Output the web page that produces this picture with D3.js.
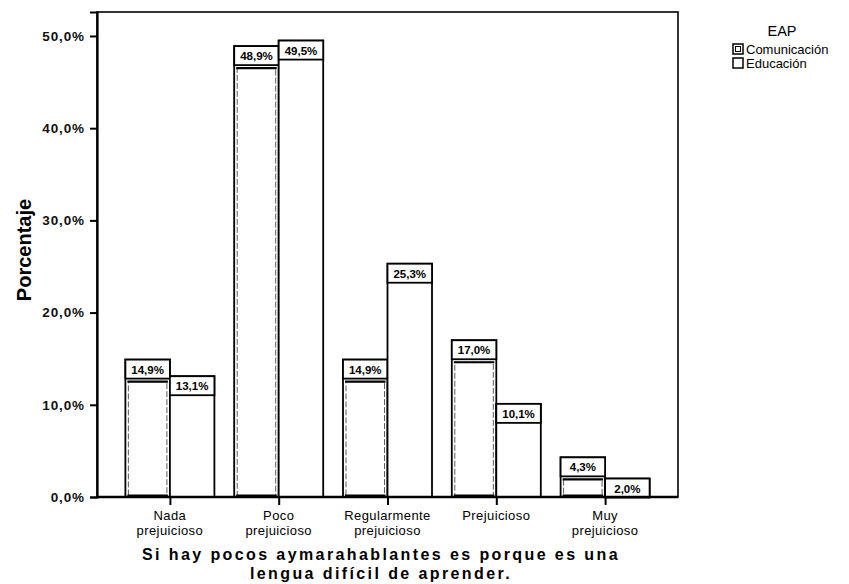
<!DOCTYPE html>
<html>
<head>
<meta charset="utf-8">
<script src="https://cdn.jsdelivr.net/npm/d3@7"></script>
<style>
  html, body { margin: 0; padding: 0; background: #fff; }
  svg { display: block; font-family: "Liberation Sans", Arial, sans-serif; }
</style>
</head>
<body>
<svg id="chart" width="849" height="584"></svg>
<script>
// Categories of the answer scale
const categories = [
  ["Nada", "prejuicioso"],
  ["Poco", "prejuicioso"],
  ["Regularmente", "prejuicioso"],
  ["Prejuicioso"],
  ["Muy", "prejuicioso"]
];
const categoryKeys = categories.map(c => c.join(" "));

// Percentages per EAP group
const comunicacion = [14.9, 48.9, 14.9, 17.0, 4.3];
const educacion    = [13.1, 49.5, 25.3, 10.1, 2.0];

const seriesNames = ["Comunicación", "Educación"];
const yTicks = [0, 10, 20, 30, 40, 50];

const fmt = v => v.toFixed(1).replace(".", ",") + "%";

const svg = d3.select("#chart");
const plot = { left: 97, right: 678, top: 12, bottom: 497 };

const x = d3.scalePoint()
  .domain(categoryKeys)
  .range([plot.left, plot.right])
  .padding(0.67);

const y = d3.scaleLinear()
  .domain([0, 52.6])
  .range([plot.bottom, plot.top]);

const barW = 44.5;

// Plot frame
svg.append("rect")
  .attr("x", plot.left).attr("y", plot.top)
  .attr("width", plot.right - plot.left)
  .attr("height", plot.bottom - plot.top)
  .attr("fill", "#fff").attr("stroke", "#000").attr("stroke-width", 1.6);

// Bars
const series = [comunicacion, educacion];
series.forEach((vals, si) => {
  const g = svg.append("g").attr("class", "series-" + si);
  vals.forEach((v, i) => {
    const cx = x(categoryKeys[i]);
    const x0 = si === 0 ? cx - barW : cx;
    const top = y(v);
    g.append("rect")
      .attr("x", x0).attr("y", top)
      .attr("width", barW).attr("height", y(0) - top)
      .attr("fill", "#fff").attr("stroke", "#000").attr("stroke-width", 1.8);
    if (si === 0) {
      // inner outline of the Comunicación bars
      const innerTop = Math.min(top + 22, y(0) - 4);
      g.append("rect")
        .attr("x", x0 + 3).attr("y", innerTop)
        .attr("width", barW - 6)
        .attr("height", Math.max(0, y(0) - 1 - innerTop))
        .attr("fill", "none").attr("stroke", "#333").attr("stroke-width", 0.8)
        .attr("stroke-dasharray", "6,2");
      g.append("line")
        .attr("x1", x0 + 2).attr("x2", x0 + barW - 2)
        .attr("y1", innerTop).attr("y2", innerTop)
        .attr("stroke", "#000").attr("stroke-width", 2.2);
      g.append("line")
        .attr("x1", x0 + 2).attr("x2", x0 + barW - 2)
        .attr("y1", y(0) - 1.5).attr("y2", y(0) - 1.5)
        .attr("stroke", "#000").attr("stroke-width", 2);
    }
    // value label box
    g.append("rect")
      .attr("x", x0).attr("y", top)
      .attr("width", barW).attr("height", 19)
      .attr("fill", "#fff").attr("stroke", "#000").attr("stroke-width", 1.8);
    g.append("text")
      .attr("x", x0 + barW / 2).attr("y", top + 14)
      .attr("text-anchor", "middle")
      .attr("font-size", 11.5).attr("font-weight", "bold")
      .text(fmt(v));
  });
});

// Y axis
const yAxis = d3.axisLeft(y).tickValues(yTicks).tickSize(7).tickPadding(5)
  .tickFormat(d => d.toFixed(1).replace(".", ",") + "%");
const gy = svg.append("g").attr("transform", `translate(${plot.left},0)`).call(yAxis);
gy.select(".domain").attr("stroke-width", 2.2);
gy.selectAll(".tick line").attr("stroke-width", 2);
gy.selectAll(".tick text").attr("font-size", 13.5).attr("font-weight", "bold")
  .attr("letter-spacing", 0.9)
  .attr("font-family", "'Liberation Sans', Arial, sans-serif").attr("fill", "#111");

// X axis
const xAxis = d3.axisBottom(x).tickSize(8).tickFormat("");
const gx = svg.append("g").attr("transform", `translate(0,${plot.bottom})`).call(xAxis);
gx.select(".domain").attr("stroke-width", 2.4).attr("d", `M${plot.left},0H${plot.right}`);
gx.selectAll(".tick line").attr("stroke-width", 2);

categories.forEach((lines, i) => {
  lines.forEach((l, k) => {
    svg.append("text")
      .attr("x", x(categoryKeys[i])).attr("y", 520 + k * 15)
      .attr("text-anchor", "middle").attr("font-size", 13)
      .attr("letter-spacing", 0.4)
      .text(l);
  });
});

// Axis titles
svg.append("text")
  .attr("transform", `translate(31,250) rotate(-90)`)
  .attr("text-anchor", "middle")
  .attr("font-family", "'Liberation Sans Narrow', 'Liberation Sans', Arial, sans-serif")
  .attr("font-size", 20).attr("font-weight", "bold")
  .text("Porcentaje");

svg.append("text")
  .attr("x", 381).attr("y", 560)
  .attr("text-anchor", "middle").attr("font-size", 16).attr("font-weight", "bold")
  .attr("letter-spacing", 2.4)
  .text("Si hay pocos aymarahablantes es porque es una");
svg.append("text")
  .attr("x", 381).attr("y", 579)
  .attr("text-anchor", "middle").attr("font-size", 16).attr("font-weight", "bold")
  .attr("letter-spacing", 2.4)
  .text("lengua difícil de aprender.");

// Legend
const lg = svg.append("g");
lg.append("text").attr("x", 782).attr("y", 36).attr("text-anchor", "middle")
  .attr("font-size", 14.5).text("EAP");
seriesNames.forEach((name, i) => {
  const yy = 44 + i * 14;
  lg.append("rect").attr("x", 733).attr("y", yy).attr("width", 10).attr("height", 10)
    .attr("fill", "#fff").attr("stroke", "#000").attr("stroke-width", 1.5);
  if (i === 0) {
    lg.append("rect").attr("x", 735.5).attr("y", yy + 2.5).attr("width", 5).attr("height", 5)
      .attr("fill", "none").attr("stroke", "#000").attr("stroke-width", 1);
  }
  lg.append("text").attr("x", 746).attr("y", yy + 9.5)
    .attr("font-size", 13).text(name);
});
</script>
</body>
</html>
